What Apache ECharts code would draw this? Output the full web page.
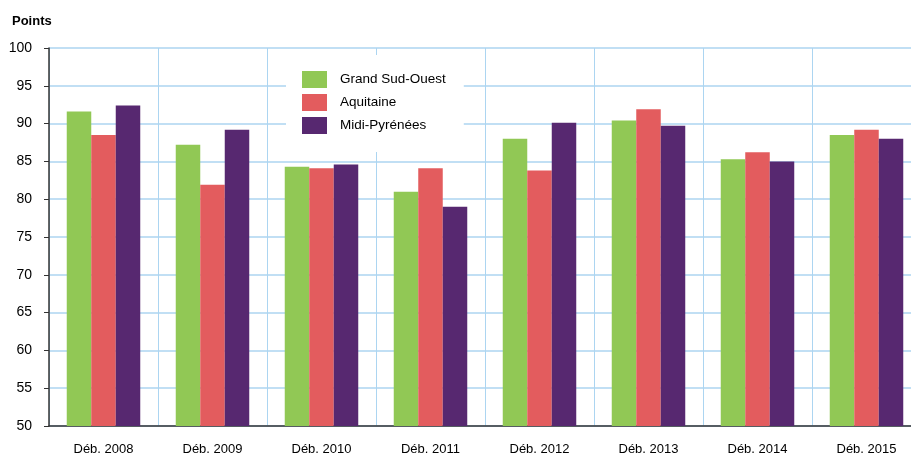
<!DOCTYPE html>
<html>
<head>
<meta charset="utf-8">
<script src="https://cdn.jsdelivr.net/npm/echarts@6/dist/echarts.min.js"></script>
<style>
  html, body { margin: 0; padding: 0; background: #fff; overflow: hidden; }
  /* plot runs a bit past the right edge of the picture, like the source */
  #chart { width: 921px; height: 457px; }
</style>
</head>
<body>
<div id="chart"></div>
<script>
// categories + series values
var categories = ['Déb. 2008', 'Déb. 2009', 'Déb. 2010', 'Déb. 2011', 'Déb. 2012', 'Déb. 2013', 'Déb. 2014', 'Déb. 2015'];
var grandSudOuest = [91.6, 87.2, 84.3, 81.0, 88.0, 90.4, 85.3, 88.5];
var aquitaine = [88.5, 81.9, 84.1, 84.1, 83.8, 91.9, 86.2, 89.2];
var midiPyrenees = [92.4, 89.2, 84.6, 79.0, 90.1, 89.7, 85.0, 88.0];
var yTicks = { min: 50, max: 100, interval: 5 };

var myChart = echarts.init(document.getElementById('chart'));
var gridBlue = '#acd5f1';
var labelFont = 'Liberation Sans, Arial, sans-serif';

var option = {
  animation: false,
  title: {
    text: 'Points',
    left: 7,
    top: 10,
    textStyle: { fontFamily: labelFont, fontSize: 13, fontWeight: 'bold', color: '#000' }
  },
  color: ['#91c855', '#e35c5e', '#572870'],
  legend: {
    orient: 'vertical',
    left: 286,
    top: 55,
    padding: [16, 18, 18, 16],
    backgroundColor: '#fff',
    itemWidth: 25,
    itemHeight: 17,
    itemGap: 6,
    icon: 'rect',
    textStyle: { fontFamily: labelFont, fontSize: 13.5, color: '#000', padding: [0, 0, 0, 8] },
    data: ['Grand Sud-Ouest', 'Aquitaine', 'Midi-Pyrénées']
  },
  grid: {
    left: 49,
    top: 48,
    right: 0,
    bottom: 31,
    containLabel: false
  },
  xAxis: {
    type: 'category',
    data: categories,
    axisTick: { show: false },
    axisLine: { lineStyle: { color: '#333', width: 1.5 } },
    axisLabel: { fontFamily: labelFont, fontSize: 13, color: '#000', margin: 17 },
    splitLine: { show: true, lineStyle: { color: gridBlue, width: 1 } }
  },
  yAxis: {
    type: 'value',
    min: yTicks.min,
    max: yTicks.max,
    interval: yTicks.interval,
    axisLine: { show: true, lineStyle: { color: '#333', width: 1.5 } },
    axisTick: { show: true, length: 5, lineStyle: { color: '#333' } },
    axisLabel: { fontFamily: labelFont, fontSize: 14, color: '#000', margin: 17 },
    splitLine: { lineStyle: { color: gridBlue, width: 1.5 } }
  },
  series: [
    { name: 'Grand Sud-Ouest', type: 'bar', data: grandSudOuest, barWidth: 24.5, barGap: '0%' },
    { name: 'Aquitaine', type: 'bar', data: aquitaine, barWidth: 24.5, barGap: '0%' },
    { name: 'Midi-Pyrénées', type: 'bar', data: midiPyrenees, barWidth: 24.5, barGap: '0%' }
  ]
};
myChart.setOption(option);
</script>
</body>
</html>
